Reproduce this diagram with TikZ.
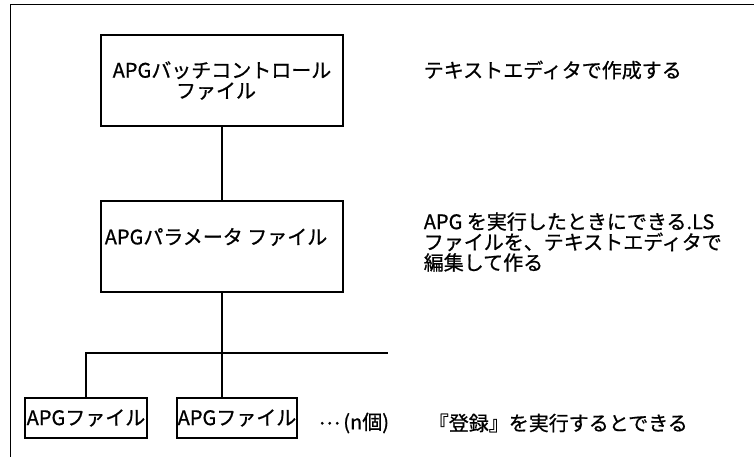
\documentclass[tikz,border=0pt]{standalone}
\usepackage{fontspec}
\setmainfont{Noto Sans CJK JP}[FakeBold=0.8]
\newcommand{\jpfont}{\fontsize{20pt}{20.5pt}\selectfont}
\begin{document}
\begin{tikzpicture}[x=1pt,y=-1pt, line width=1.6pt,
  box/.style={draw, rectangle, inner sep=0pt, font=\jpfont},
  lbl/.style={anchor=west, inner sep=0pt, font=\jpfont, align=left}]
\useasboundingbox (0,0) rectangle (754,457);
% open frame
\draw (10.5,457) -- (10.5,4.5) -- (754,4.5);
% boxes
\node[box, minimum width=242pt, minimum height=91pt, align=center] (b1) at (222,80.5)
  {APGバッチコントロール\\ファイル\hspace*{12pt}};
\node[box, minimum width=242pt, minimum height=91pt] (b2) at (222,246.5) {};
\node[lbl] (t2) at (104,237) {APGパラメータ ファイル};
\node[box, minimum width=122pt, minimum height=40pt] (fa) at (86,418) {APGファイル};
\node[box, minimum width=120pt, minimum height=40pt] (fb) at (237,418) {APGファイル};
\coordinate (hr) at (388,353);
% connectors
\draw (b1.south) -- (b2.north);
\draw (b2.south) -- (b2.south |- fb.north);
\draw (fa.north) |- (hr);
% labels
\node[lbl] (n1) at (423,70) {テキストエディタで作成する};
\node[lbl] (n2) at (423,242) {APG を実行したときにできる.LS\\ファイルを、テキストエディタで\\編集して作る};
\node[lbl] (dots) at (318,423) {\raisebox{5pt}{…}\,(n個)};
\node[lbl] (n3) at (428,423) {『登録』を実行するとできる};
\end{tikzpicture}
\end{document}
